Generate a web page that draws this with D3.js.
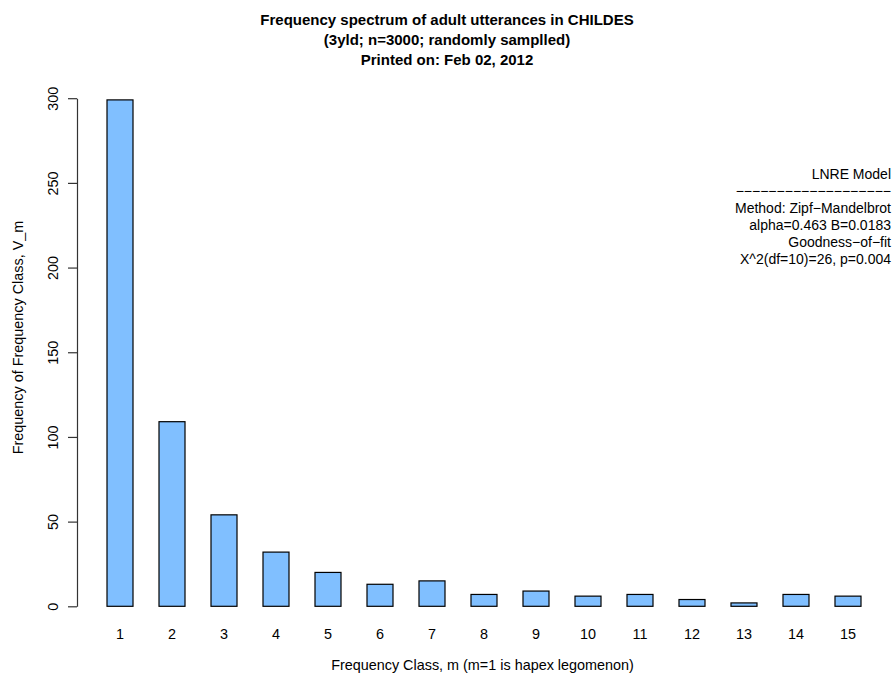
<!DOCTYPE html>
<html>
<head>
<meta charset="utf-8">
<script src="https://cdn.jsdelivr.net/npm/d3@7"></script>
<style>
  body { margin: 0; background: #fff; }
  text { font-family: "Liberation Sans", Arial, sans-serif; }
</style>
</head>
<body>
<svg id="chart"></svg>
<script>
// frequency classes and their counts
const classes = [1, 2, 3, 4, 5, 6, 7, 8, 9, 10, 11, 12, 13, 14, 15];
const counts = [299, 109, 54, 32, 20, 13, 15, 7, 9, 6, 7, 4, 2, 7, 6];
const yTicks = [0, 50, 100, 150, 200, 250, 300];

const titleLines = [
  "Frequency spectrum of adult utterances in CHILDES",
  "(3yld; n=3000; randomly samplled)",
  "Printed on: Feb 02, 2012"
];
const legendLines = [
  "LNRE Model",
  "\u2212".repeat(19),
  "Method: Zipf\u2212Mandelbrot",
  "alpha=0.463 B=0.0183",
  "Goodness\u2212of\u2212fit",
  "X^2(df=10)=26, p=0.004"
];

const width = 894, height = 677;

const svg = d3.select("#chart")
  .attr("width", width)
  .attr("height", height);

// plot region like R's barplot (space = 1)
const x = d3.scaleBand()
  .domain(classes)
  .range([77, 891])
  .paddingInner(0.5)
  .paddingOuter(0.577);

const y = d3.scaleLinear()
  .domain([0, 300])
  .range([606.3, 98.2]);

// bars
svg.selectAll(".bar")
  .data(classes)
  .join("rect")
  .attr("class", "bar")
  .attr("x", d => x(d))
  .attr("width", x.bandwidth())
  .attr("y", (d, i) => y(counts[i]))
  .attr("height", (d, i) => y(0) - y(counts[i]))
  .attr("fill", "#80bfff")
  .attr("stroke", "#000")
  .attr("stroke-width", 1.2);

// bar names
svg.selectAll(".xlab")
  .data(classes)
  .join("text")
  .attr("class", "xlab")
  .attr("x", d => x(d) + x.bandwidth() / 2)
  .attr("y", 638.5)
  .attr("text-anchor", "middle")
  .attr("font-size", 14.4)
  .text(d => d);

// y axis
const yAxis = d3.axisLeft(y)
  .tickValues(yTicks)
  .tickSize(9)
  .tickSizeOuter(0);

const ga = svg.append("g")
  .attr("transform", "translate(77,0)")
  .call(yAxis);
ga.select(".domain").attr("stroke", "#333").attr("stroke-width", 1.2);
ga.selectAll(".tick line").attr("stroke", "#333").attr("stroke-width", 1.2);
ga.selectAll(".tick text")
  .attr("font-size", 14.4)
  .attr("fill", "#000")
  .attr("font-family", "Liberation Sans, Arial, sans-serif")
  .attr("text-anchor", "middle")
  .attr("dy", 0)
  .attr("x", 0)
  .attr("y", 0)
  .attr("transform", "translate(-19,0) rotate(-90)");

// axis titles
svg.append("text")
  .attr("x", 482.5)
  .attr("y", 670)
  .attr("text-anchor", "middle")
  .attr("font-size", 14.4)
  .text("Frequency Class, m (m=1 is hapex legomenon)");

svg.append("text")
  .attr("transform", "translate(23,337.5) rotate(-90)")
  .attr("text-anchor", "middle")
  .attr("font-size", 14.4)
  .text("Frequency of Frequency Class, V_m");

// title
svg.selectAll(".title")
  .data(titleLines)
  .join("text")
  .attr("class", "title")
  .attr("x", 447)
  .attr("y", (d, i) => 25 + i * 20)
  .attr("text-anchor", "middle")
  .attr("font-size", 15)
  .attr("font-weight", "bold")
  .text(d => d);

// model info, right aligned
svg.selectAll(".legend")
  .data(legendLines)
  .join("text")
  .attr("class", "legend")
  .attr("x", 891)
  .attr("y", (d, i) => 179 + i * 17)
  .attr("text-anchor", "end")
  .attr("font-size", 14)
  .text(d => d);
</script>
</body>
</html>
